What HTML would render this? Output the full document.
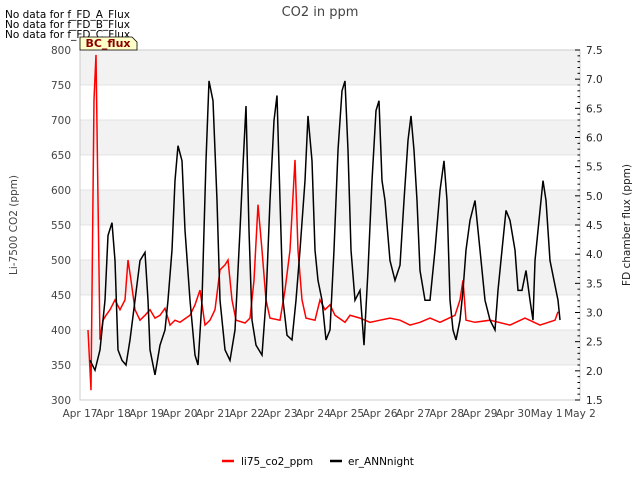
<!DOCTYPE html>
<html><head><meta charset="utf-8"><style>
body{margin:0;background:#fff;font-family:"Liberation Sans","DejaVu Sans",sans-serif}
svg text{font-family:"DejaVu Sans","Liberation Sans",sans-serif}
</style></head><body>
<svg id="c" width="640" height="480" viewBox="0 0 640 480" xmlns="http://www.w3.org/2000/svg">
<text x="320" y="16" text-anchor="middle" font-size="13" fill="#444">CO2 in ppm</text>
<g font-size="10.5" fill="#000">
<text x="5" y="18">No data for f_FD_A_Flux</text>
<text x="5" y="28">No data for f_FD_B_Flux</text>
<text x="5" y="38">No data for f_FD_C_Flux</text>
</g>
<g id="plot"></g>
<g>
<path d="M80,37 L132,37 L137,42 L137,50 L80,50 Z" fill="#ffffc8" stroke="#000" stroke-width="0.8"/>
<text x="108" y="47" text-anchor="middle" font-size="11" font-weight="bold" fill="#8b0000">BC_flux</text>
</g>
<text transform="translate(17,225) rotate(-90)" text-anchor="middle" font-size="10.5" fill="#444">Li-7500 CO2 (ppm)</text>
<text transform="translate(630,225) rotate(-90)" text-anchor="middle" font-size="10.5" fill="#222">FD chamber flux (ppm)</text>
<g font-size="10.5">
<g><line x1="222" y1="461" x2="234" y2="461" stroke="red" stroke-width="2.5"/><text x="241" y="465">li75_co2_ppm</text></g>
<g><line x1="330" y1="461" x2="342" y2="461" stroke="#000" stroke-width="2.5"/><text x="348" y="465">er_ANNnight</text></g>
</g>
</svg>
<script>
const xLabels=["Apr 17","Apr 18","Apr 19","Apr 20","Apr 21","Apr 22","Apr 23","Apr 24","Apr 25","Apr 26","Apr 27","Apr 28","Apr 29","Apr 30","May 1","May 2"];
const leftTicks=[300,350,400,450,500,550,600,650,700,750,800];
const rightTicks=[1.5,2.0,2.5,3.0,3.5,4.0,4.5,5.0,5.5,6.0,6.5,7.0,7.5];
const redDays=[0.24,0.33,0.42,0.48,0.54,0.6,0.69,0.78,0.9,1.05,1.2,1.35,1.44,1.53,1.65,1.8,1.95,2.1,2.25,2.4,2.55,2.7,2.85,3.0,3.3,3.45,3.6,3.75,3.9,4.05,4.2,4.35,4.44,4.56,4.68,4.95,5.1,5.22,5.34,5.46,5.58,5.7,6.0,6.15,6.3,6.45,6.54,6.66,6.78,7.05,7.2,7.35,7.5,7.65,7.95,8.1,8.4,8.7,9.0,9.3,9.6,9.9,10.2,10.5,10.8,11.25,11.4,11.49,11.58,11.85,12.3,12.9,13.35,13.8,14.25,14.34];
const redVals=[400,314,729,793,586,386,414,421,429,443,429,443,500,471,429,414,421,429,417,421,431,407,414,411,421,436,457,407,414,429,486,493,500,443,414,410,417,471,579,514,443,417,414,457,514,643,514,443,417,414,443,429,436,421,411,421,417,411,414,417,414,407,411,417,411,421,443,471,414,411,414,407,417,407,414,426];
const blackDays=[0.3,0.45,0.6,0.75,0.84,0.96,1.05,1.14,1.26,1.38,1.5,1.65,1.8,1.95,2.04,2.1,2.25,2.4,2.55,2.64,2.76,2.85,2.94,3.06,3.15,3.3,3.45,3.54,3.66,3.78,3.87,3.99,4.11,4.2,4.35,4.5,4.65,4.8,4.89,4.98,5.07,5.16,5.28,5.46,5.58,5.7,5.82,5.91,6.0,6.09,6.21,6.36,6.48,6.6,6.75,6.84,6.96,7.05,7.14,7.26,7.38,7.5,7.62,7.74,7.86,7.95,8.04,8.13,8.25,8.4,8.52,8.64,8.76,8.88,8.97,9.06,9.15,9.3,9.45,9.6,9.72,9.84,9.93,10.02,10.11,10.2,10.35,10.5,10.65,10.8,10.92,11.01,11.1,11.19,11.28,11.4,11.49,11.58,11.7,11.85,12.0,12.15,12.3,12.45,12.54,12.66,12.78,12.9,13.05,13.14,13.26,13.38,13.5,13.59,13.65,13.8,13.89,13.98,14.1,14.22,14.34,14.4];
const blackVals=[2.18,2.01,2.36,3.21,4.32,4.54,3.89,2.36,2.18,2.1,2.53,3.21,3.89,4.03,3.21,2.36,1.93,2.44,2.7,3.21,4.07,5.26,5.86,5.6,4.41,3.21,2.27,2.1,3.21,5.6,6.97,6.63,4.92,3.21,2.36,2.18,2.7,4.41,5.52,6.54,4.41,2.87,2.44,2.27,3.21,4.92,6.29,6.72,4.92,3.21,2.61,2.53,3.21,4.07,5.26,6.37,5.6,4.07,3.55,3.21,2.53,2.7,4.07,5.78,6.8,6.97,5.78,4.07,3.21,3.38,2.44,3.72,5.26,6.46,6.63,5.26,4.92,3.89,3.55,3.81,4.92,5.95,6.37,5.78,4.92,3.72,3.21,3.21,4.07,5.09,5.6,4.92,3.21,2.7,2.53,2.87,3.38,4.07,4.58,4.92,4.07,3.21,2.87,2.7,3.38,4.07,4.75,4.58,4.07,3.38,3.38,3.72,3.21,2.87,3.89,4.75,5.26,4.92,3.89,3.55,3.21,2.87];

const NS="http://www.w3.org/2000/svg";
const L=80,R=580,T=50,B=400;
const xs=d=>L+d*(R-L)/15;
const yl=v=>B-(v-300)*(B-T)/500;
const yr=v=>B-(v-1.5)*(B-T)/6;
const g=document.getElementById('plot');
function mk(t,a){const e=document.createElementNS(NS,t);for(const k in a)e.setAttribute(k,a[k]);g.appendChild(e);return e;}
for(let i=0;i<leftTicks.length-1;i++){
  if(i%2===1){const r=mk('rect',{x:L,y:yl(leftTicks[i+1]),width:R-L,height:yl(leftTicks[i])-yl(leftTicks[i+1]),fill:'#f2f2f2'});
  
  }
}
leftTicks.forEach(v=>{
  const ln=mk('line',{x1:L,x2:R,y1:yl(v),y2:yl(v),stroke:'#ddd','stroke-width':0.8});
  
  
  const t=mk('text',{x:L-9,y:yl(v)+4,'text-anchor':'end','font-size':10.5,fill:'#444'});t.textContent=v;
  
  
});
const fr=mk('rect',{x:L,y:T,width:R-L,height:B-T,fill:'none',stroke:'#ccc','stroke-width':1});


rightTicks.forEach((v,i)=>{
  mk('line',{x1:R,x2:R-5,y1:yr(v),y2:yr(v),stroke:'#000'});
  if(i<rightTicks.length-1){for(let k=1;k<5;k++){const y=yr(v+0.1*k);mk('line',{x1:R,x2:R-2.5,y1:y,y2:y,stroke:'#000'});}}
  const t=mk('text',{x:R+6,y:yr(v)+4,'font-size':10.5,fill:'#222'});t.textContent=v.toFixed(1);
  
  
});
xLabels.forEach((s,i)=>{
  const t=mk('text',{x:xs(i),y:B+17,'text-anchor':'middle','font-size':10.5,fill:'#444'});t.textContent=s;
  
  
});
const pr=mk('polyline',{points:redDays.map((d,i)=>xs(d)+','+yl(redVals[i])).join(' '),fill:'none',stroke:'red','stroke-width':1.5});


const pb=mk('polyline',{points:blackDays.map((d,i)=>xs(d)+','+yr(blackVals[i])).join(' '),fill:'none',stroke:'#000','stroke-width':1.5});


</script>
</body></html>
